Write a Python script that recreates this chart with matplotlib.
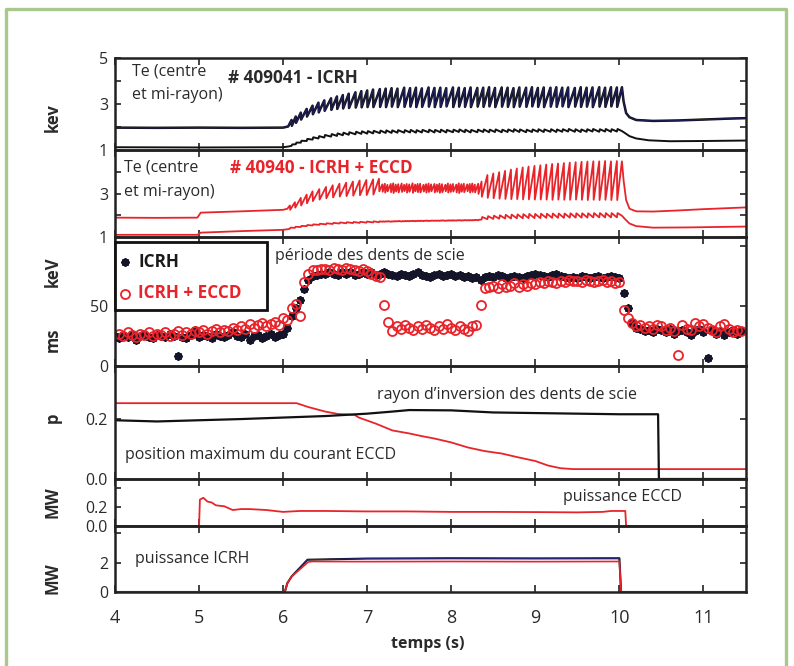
import numpy as np
import matplotlib
matplotlib.use('Agg')
import matplotlib.pyplot as plt
from matplotlib.patches import Rectangle
from matplotlib.lines import Line2D

plt.rcParams['font.family'] = ['Open Sans', 'DejaVu Sans']

# ---------------- data ----------------
x_ticks = [4, 5, 6, 7, 8, 9, 10, 11]
x_tick_labels = ['4', '5', '6', '7', '8', '9', '10', '11']

# Panel 1 : shot 409041 (ICRH) - central and mid-radius Te (keV)
icrh_core_pre_t = [4.0, 4.5, 5.0, 5.5, 6.0, 6.06]
icrh_core_pre_v = [1.97, 1.96, 1.97, 1.96, 1.97, 2.02]
icrh_crash_t = [6.10, 6.15, 6.21, 6.28, 6.35, 6.42, 6.49, 6.57, 6.64, 6.71,
                6.78, 6.86, 6.93, 7.00, 7.07, 7.15, 7.22, 7.29, 7.36, 7.44,
                7.51, 7.58, 7.65, 7.73, 7.80, 7.87, 7.94, 8.02, 8.09, 8.16,
                8.23, 8.31, 8.38, 8.45, 8.52, 8.60, 8.67, 8.74, 8.81, 8.89,
                8.96, 9.03, 9.10, 9.18, 9.25, 9.32, 9.39, 9.47, 9.54, 9.61,
                9.68, 9.76, 9.83, 9.90, 9.97]
icrh_core_peak = [2.30, 2.45, 2.62, 2.78, 2.92, 3.05, 3.15, 3.24, 3.32, 3.38,
                  3.44, 3.50, 3.55, 3.58, 3.62, 3.64, 3.66, 3.68, 3.66, 3.70,
                  3.68, 3.70, 3.67, 3.71, 3.69, 3.70, 3.68, 3.71, 3.70, 3.68,
                  3.71, 3.69, 3.70, 3.72, 3.69, 3.71, 3.70, 3.68, 3.71, 3.70,
                  3.72, 3.69, 3.71, 3.70, 3.72, 3.70, 3.71, 3.69, 3.72, 3.70,
                  3.71, 3.72, 3.70, 3.72, 3.71]
icrh_core_trough = [2.05, 2.18, 2.32, 2.45, 2.55, 2.63, 2.70, 2.74, 2.78, 2.80,
                    2.82, 2.84, 2.85, 2.86, 2.86, 2.87, 2.86, 2.88, 2.86, 2.87,
                    2.88, 2.86, 2.87, 2.88, 2.86, 2.87, 2.89, 2.86, 2.88, 2.87,
                    2.86, 2.88, 2.87, 2.89, 2.86, 2.88, 2.87, 2.86, 2.88, 2.87,
                    2.89, 2.87, 2.86, 2.88, 2.87, 2.89, 2.86, 2.88, 2.87, 2.88,
                    2.86, 2.88, 2.87, 2.89, 2.87]
icrh_core_post_t = [10.03, 10.05, 10.08, 10.12, 10.2, 10.4, 10.7, 11.0, 11.3, 11.5]
icrh_core_post_v = [3.72, 3.10, 2.60, 2.42, 2.30, 2.26, 2.28, 2.32, 2.36, 2.38]

icrh_mid_pre_t = [4.0, 5.0, 6.0, 6.06]
icrh_mid_pre_v = [1.12, 1.11, 1.12, 1.15]
icrh_mid_low = [1.18, 1.25, 1.32, 1.39, 1.45, 1.50, 1.54, 1.58, 1.61, 1.64,
                1.66, 1.68, 1.70, 1.71, 1.72, 1.73, 1.74, 1.74, 1.75, 1.75,
                1.76, 1.75, 1.76, 1.77, 1.76, 1.77, 1.76, 1.77, 1.78, 1.77,
                1.76, 1.77, 1.78, 1.77, 1.78, 1.77, 1.78, 1.79, 1.78, 1.77,
                1.78, 1.79, 1.78, 1.79, 1.78, 1.79, 1.80, 1.79, 1.78, 1.79,
                1.80, 1.79, 1.80, 1.79, 1.80]
icrh_mid_high = [1.24, 1.32, 1.40, 1.48, 1.55, 1.60, 1.65, 1.69, 1.72, 1.75,
                 1.77, 1.79, 1.81, 1.82, 1.83, 1.84, 1.85, 1.85, 1.86, 1.86,
                 1.87, 1.86, 1.87, 1.88, 1.87, 1.88, 1.87, 1.88, 1.89, 1.88,
                 1.87, 1.88, 1.89, 1.88, 1.89, 1.88, 1.89, 1.90, 1.89, 1.88,
                 1.89, 1.90, 1.89, 1.90, 1.89, 1.90, 1.91, 1.90, 1.89, 1.90,
                 1.91, 1.90, 1.91, 1.90, 1.91]
icrh_mid_post_t = [10.03, 10.06, 10.12, 10.2, 10.35, 10.6, 11.0, 11.5]
icrh_mid_post_v = [1.82, 1.75, 1.60, 1.50, 1.42, 1.38, 1.39, 1.41]

# Panel 2 : shot 40940 (ICRH + ECCD)
eccd_core_pre_t = [4.0, 4.5, 4.98, 5.02, 5.5, 6.0, 6.05]
eccd_core_pre_v = [1.89, 1.88, 1.89, 2.12, 2.18, 2.25, 2.30]
eccd_crash_t = [6.08, 6.14, 6.21, 6.28, 6.35, 6.43, 6.51, 6.59, 6.67, 6.75,
                6.83, 6.91, 6.99, 7.07, 7.14,
                7.18, 7.21, 7.24, 7.28, 7.31, 7.34, 7.37, 7.41, 7.44, 7.47,
                7.50, 7.54, 7.57, 7.60, 7.63, 7.67, 7.70, 7.73, 7.76, 7.80,
                7.83, 7.86, 7.89, 7.93, 7.96, 7.99, 8.02, 8.06, 8.09, 8.12,
                8.15, 8.19, 8.22, 8.25, 8.28, 8.32,
                8.36, 8.43, 8.50, 8.57, 8.64, 8.71, 8.78, 8.85, 8.92, 8.99,
                9.06, 9.13, 9.20, 9.27, 9.34, 9.41, 9.48, 9.55, 9.62, 9.69,
                9.76, 9.83, 9.90, 9.97]
eccd_core_peak = [2.45, 2.60, 2.80, 2.95, 3.10, 3.20, 3.30, 3.38, 3.45, 3.50,
                  3.55, 3.60, 3.62, 3.65, 3.68,
                  3.42, 3.45, 3.40, 3.44, 3.47, 3.41, 3.43, 3.46, 3.40, 3.44,
                  3.42, 3.47, 3.41, 3.44, 3.45, 3.40, 3.43, 3.46, 3.42, 3.44,
                  3.41, 3.45, 3.43, 3.40, 3.46, 3.42, 3.44, 3.41, 3.47, 3.43,
                  3.45, 3.42, 3.44, 3.46, 3.41, 3.45,
                  3.55, 3.85, 3.92, 3.98, 4.04, 4.10, 4.15, 4.20, 4.24, 4.27,
                  4.30, 4.33, 4.36, 4.38, 4.40, 4.42, 4.44, 4.46, 4.47, 4.48,
                  4.48, 4.49, 4.48, 4.49]
eccd_core_trough = [2.25, 2.35, 2.45, 2.55, 2.65, 2.72, 2.78, 2.82, 2.86, 2.88,
                    2.90, 2.92, 2.93, 2.95, 3.10,
                    3.08, 3.04, 3.10, 3.06, 3.02, 3.09, 3.05, 3.07, 3.11, 3.04,
                    3.08, 3.03, 3.10, 3.06, 3.05, 3.09, 3.04, 3.07, 3.10, 3.05,
                    3.08, 3.03, 3.06, 3.10, 3.04, 3.07, 3.09, 3.05, 3.02, 3.08,
                    3.06, 3.10, 3.04, 3.07, 3.05, 2.98,
                    2.85, 2.80, 2.78, 2.76, 2.75, 2.74, 2.74, 2.73, 2.73, 2.72,
                    2.72, 2.72, 2.71, 2.72, 2.71, 2.71, 2.72, 2.71, 2.70, 2.71,
                    2.70, 2.71, 2.70, 2.70]
eccd_core_post_t = [10.03, 10.05, 10.08, 10.12, 10.2, 10.4, 10.7, 11.0, 11.3, 11.5]
eccd_core_post_v = [4.48, 3.60, 2.70, 2.30, 2.18, 2.17, 2.22, 2.28, 2.33, 2.36]

eccd_mid_pre_t = [4.0, 4.98, 5.02, 5.5, 6.0, 6.06]
eccd_mid_pre_v = [1.10, 1.10, 1.20, 1.27, 1.33, 1.36]
eccd_mid_low = [1.38, 1.42, 1.46, 1.50, 1.53, 1.56, 1.58, 1.60, 1.62, 1.63,
                1.64, 1.65, 1.66, 1.67, 1.68,
                1.70, 1.70, 1.71, 1.70, 1.71, 1.71, 1.72, 1.71, 1.72, 1.72,
                1.72, 1.73, 1.72, 1.73, 1.73, 1.73, 1.74, 1.73, 1.74, 1.74,
                1.74, 1.74, 1.75, 1.74, 1.75, 1.75, 1.75, 1.75, 1.76, 1.75,
                1.76, 1.76, 1.76, 1.76, 1.77, 1.77,
                1.80, 1.82, 1.83, 1.84, 1.85, 1.85, 1.86, 1.86, 1.87, 1.87,
                1.87, 1.88, 1.88, 1.88, 1.88, 1.89, 1.89, 1.89, 1.89, 1.90,
                1.90, 1.90, 1.90, 1.90]
eccd_mid_high = [1.43, 1.47, 1.51, 1.55, 1.58, 1.61, 1.63, 1.65, 1.67, 1.68,
                 1.69, 1.70, 1.71, 1.72, 1.72,
                 1.72, 1.72, 1.73, 1.72, 1.73, 1.73, 1.74, 1.73, 1.74, 1.74,
                 1.74, 1.75, 1.74, 1.75, 1.75, 1.75, 1.76, 1.75, 1.76, 1.76,
                 1.76, 1.76, 1.77, 1.76, 1.77, 1.77, 1.77, 1.77, 1.78, 1.77,
                 1.78, 1.78, 1.78, 1.78, 1.79, 1.79,
                 1.92, 1.96, 1.98, 2.00, 2.02, 2.03, 2.04, 2.05, 2.06, 2.06,
                 2.07, 2.07, 2.08, 2.08, 2.08, 2.09, 2.09, 2.09, 2.09, 2.10,
                 2.10, 2.10, 2.10, 2.10]
eccd_mid_post_t = [10.03, 10.06, 10.12, 10.2, 10.4, 10.8, 11.5]
eccd_mid_post_v = [1.98, 1.85, 1.62, 1.50, 1.43, 1.44, 1.48]

# Panel 3 : sawtooth period (ms), sampled every 50 ms from 4.0 s
period_t = np.round(4.0 + 0.05 * np.arange(150), 2)
period_icrh = [25, 23, 26, 24, 27, 22, 25, 26, 24, 23,
               26, 25, 24, 27, 25, 8, 24, 23, 26, 30,
               24, 26, 25, 23, 27, 25, 24, 26, 28, 25,
               24, 27, 22, 25, 26, 23, 25, 27, 24, 26,
               27, 32, 42, 48, 55, 64, 72, 75, 76, 77,
               77, 78, 77, 76, 78, 77, 78, 76, 77, 78,
               77, 78, 76, 77, 78, 77, 76, 75, 77, 76,
               75, 77, 78, 76, 75, 74, 76, 77, 75, 76,
               77, 75, 76, 74, 75, 73, 74, 72, 74, 75,
               74, 76, 75, 73, 74, 75, 74, 73, 75, 76,
               77, 76, 75, 74, 76, 77, 75, 74, 73, 74,
               73, 75, 74, 73, 74, 75, 73, 74, 75, 74,
               73, 61, 48, 36, 32, 31, 29, 30, 28, 31,
               30, 28, 31, 27, 29, 30, 28, 26, 29, 31,
               28, 7, 30, 27, 29, 26, 28, 30, 27, 29]
period_eccd = [50, 27, 25, 28, 26, 24, 27, 26, 28, 25,
               27, 26, 28, 25, 27, 29, 26, 28, 27, 29,
               28, 30, 27, 29, 31, 28, 30, 29, 32, 30,
               33, 31, 35, 32, 34, 36, 33, 35, 37, 34,
               40, 38, 48, 52, 42, 70, 77, 80, 80, 81,
               81, 80, 82, 81, 80, 82, 81, 80, 79, 81,
               79, 77, 75, 74, 51, 37, 29, 33, 31, 34,
               32, 30, 33, 31, 34, 32, 30, 33, 31, 35,
               32, 30, 33, 31, 29, 33, 34, 51, 65, 66,
               67, 65, 68, 66, 67, 69, 66, 68, 67, 69,
               68, 70, 69, 71, 70, 69, 71, 70, 72, 71,
               71, 70, 72, 71, 70, 71, 72, 70, 71, 69,
               70, 47, 40, 36, 33, 34, 32, 33, 31, 34,
               33, 30, 32, 29, 9, 34, 31, 30, 36, 33,
               35, 32, 30, 28, 33, 35, 31, 28, 30, 29]

# Panel 4 : normalised radius
rho_eccd_t = [4.0, 6.16, 6.3, 6.5, 6.65, 6.85, 6.9, 7.1, 7.3, 7.5, 7.65, 7.8,
              8.0, 8.2, 8.4, 8.6, 8.8, 9.0, 9.15, 9.3, 9.45, 11.5]
rho_eccd_v = [0.253, 0.253, 0.240, 0.225, 0.217, 0.214, 0.205, 0.185, 0.162,
              0.152, 0.143, 0.135, 0.122, 0.105, 0.093, 0.085, 0.072, 0.060,
              0.045, 0.036, 0.033, 0.033]
rho_inv_t = [4.0, 4.5, 5.0, 5.5, 6.0, 6.5, 7.0, 7.3, 7.5, 8.0, 8.5, 9.0, 9.5,
             10.0, 10.46, 10.47, 11.5]
rho_inv_v = [0.196, 0.192, 0.196, 0.200, 0.205, 0.210, 0.218, 0.225, 0.230,
             0.229, 0.222, 0.220, 0.218, 0.216, 0.216, 0.0, 0.0]

# Panel 5 : ECCD power (MW)
p_eccd_t = [4.0, 5.0, 5.01, 5.05, 5.1, 5.15, 5.2, 5.3, 5.4, 5.5, 5.6, 5.8, 6.0,
            6.2, 6.5, 7.0, 7.5, 8.0, 8.5, 9.0, 9.5, 9.8, 9.9, 10.07, 10.08, 11.5]
p_eccd_v = [0.0, 0.0, 0.28, 0.30, 0.26, 0.25, 0.22, 0.21, 0.17, 0.18, 0.18,
            0.17, 0.15, 0.16, 0.16, 0.155, 0.155, 0.15, 0.15, 0.148, 0.145,
            0.15, 0.16, 0.16, 0.0, 0.0]

# Panel 6 : ICRH power (MW)
p_icrh1_t = [4.0, 6.02, 6.05, 6.1, 6.29, 7.0, 8.0, 9.0, 10.0, 10.02, 11.5]
p_icrh1_v = [0.0, 0.0, 0.6, 1.05, 2.2, 2.28, 2.3, 2.29, 2.3, 0.0, 0.0]
p_icrh2_t = [4.0, 6.02, 6.05, 6.1, 6.3, 6.35, 7.0, 8.0, 9.0, 10.0, 10.02, 11.5]
p_icrh2_v = [0.0, 0.0, 0.6, 1.05, 2.05, 2.08, 2.07, 2.08, 2.07, 2.08, 0.0, 0.0]

# ---------------- helpers ----------------
def core_trace(pre_t, pre_v, crash_t, peak, trough, post_t, post_v, dt=0.004):
    ts, vs = list(pre_t), list(pre_v)
    for t, p, r in zip(crash_t, peak, trough):
        ts += [t, t + dt]
        vs += [p, r]
    return ts + list(post_t), vs + list(post_v)


def mid_trace(pre_t, pre_v, crash_t, low, high, post_t, post_v, dt=0.008):
    ts, vs = list(pre_t), list(pre_v)
    for t, lo, hi in zip(crash_t, low, high):
        ts += [t, t + dt]
        vs += [lo, hi]
    return ts + list(post_t), vs + list(post_v)


# ---------------- figure ----------------
W, H = 794, 666
RED = '#e8242a'
NAVY = '#1d1d58'
DARK = '#222222'
TXT = '#2a2a2a'
BODY = 11.5
TITLE = 12.3

fig = plt.figure(figsize=(W / 100, H / 100), dpi=100)
XL, XR = 115, 745.5


def add_panel(top, bottom):
    return fig.add_axes([XL / W, 1 - bottom / H, (XR - XL) / W, (bottom - top) / H])


ax1 = add_panel(57.7, 150)
ax2 = add_panel(150, 237)
ax3 = add_panel(237, 366)
ax4 = add_panel(366, 479)
ax5 = add_panel(479, 526)
ax6 = add_panel(526, 592)
axes = [ax1, ax2, ax3, ax4, ax5, ax6]

# Panel 1
t, v = mid_trace(icrh_mid_pre_t, icrh_mid_pre_v, icrh_crash_t, icrh_mid_low,
                 icrh_mid_high, icrh_mid_post_t, icrh_mid_post_v)
ax1.plot(t, v, color='#111111', lw=1.4)
t, v = core_trace(icrh_core_pre_t, icrh_core_pre_v, icrh_crash_t, icrh_core_peak,
                  icrh_core_trough, icrh_core_post_t, icrh_core_post_v)
ax1.plot(t, v, color='#111111', lw=1.8)
ax1.plot(t, v, color=NAVY, lw=0.9)
ax1.set_ylim(1, 5)
ax1.set_yticks([1, 2, 3, 4, 5])
ax1.set_yticklabels(['1', '', '3', '', '5'])

# Panel 2
t, v = mid_trace(eccd_mid_pre_t, eccd_mid_pre_v, eccd_crash_t, eccd_mid_low,
                 eccd_mid_high, eccd_mid_post_t, eccd_mid_post_v)
ax2.plot(t, v, color=RED, lw=1.3)
t, v = core_trace(eccd_core_pre_t, eccd_core_pre_v, eccd_crash_t, eccd_core_peak,
                  eccd_core_trough, eccd_core_post_t, eccd_core_post_v)
ax2.plot(t, v, color=RED, lw=1.3)
ax2.set_ylim(1, 5)
ax2.set_yticks([1, 2, 3, 4, 5])
ax2.set_yticklabels(['1', '', '3', '', ''])

# Panel 3
ax3.plot(period_t, period_icrh, linestyle='none', marker=(8, 2, 0), ms=6,
         mew=1.4, color='#15152a')
ax3.plot(period_t, period_eccd, linestyle='none', marker='o', ms=6.5, mew=1.3,
         mfc='none', mec=RED)
ax3.set_ylim(0, 107.5)
ax3.set_yticks([0, 50, 100])
ax3.set_yticklabels(['0', '50', ''])

# Panel 4
ax4.plot(rho_eccd_t, rho_eccd_v, color=RED, lw=1.3)
ax4.plot(rho_inv_t, rho_inv_v, color='#111111', lw=1.6)
ax4.set_ylim(0, 0.377)
ax4.set_yticks([0.0, 0.2])
ax4.set_yticklabels(['0.0', '0.2'])

# Panel 5
ax5.plot(p_eccd_t, p_eccd_v, color=RED, lw=1.3)
ax5.set_ylim(0, 0.5)
ax5.set_yticks([0, 0.2, 0.4])
ax5.set_yticklabels(['0.0', '0.2', ''])

# Panel 6
ax6.plot(p_icrh1_t, p_icrh1_v, color='#111111', lw=1.5)
ax6.plot(p_icrh1_t, p_icrh1_v, color='#2a2a90', lw=0.6)
ax6.plot(p_icrh2_t, p_icrh2_v, color=RED, lw=1.2)
ax6.set_ylim(0, 4.5)
ax6.set_yticks([0, 2, 4])
ax6.set_yticklabels(['0', '2', ''])

for ax in axes:
    ax.set_xlim(4, 11.5)
    ax.set_xticks(x_ticks)
    ax.set_xticklabels(x_tick_labels)
    for s in ax.spines.values():
        s.set_linewidth(1.8)
        s.set_color(DARK)
    ax.tick_params(axis='y', direction='in', left=True, right=True, length=4,
                   width=1.2, color=DARK, labelsize=11.5, pad=5, labelcolor=TXT)
    ax.tick_params(axis='x', direction='in', top=True, bottom=True, length=5,
                   width=1.2, color=DARK, labelbottom=False)
    ax.set_facecolor('none')
ax6.tick_params(axis='x', labelbottom=True, labelsize=13, pad=12, labelcolor=TXT)


def ftext(x, y, s, **kw):
    fig.text(x / W, 1 - y / H, s, **kw)


# y-axis labels
for y, s in [(118, 'kev'), (272, 'keV'), (340, 'ms'), (418, 'p'),
             (502, 'MW'), (578, 'MW')]:
    ftext(53, y, s, rotation=90, ha='center', va='center', fontsize=12,
          fontweight='bold', color=TXT)

ftext(428, 644, 'temps (s)', ha='center', va='center', fontsize=11.5,
      fontweight='bold', color=TXT)

# annotations
ftext(132, 71, 'Te (centre', ha='left', va='center', fontsize=BODY, color=TXT)
ftext(132, 95, 'et mi-rayon)', ha='left', va='center', fontsize=BODY, color=TXT)
ftext(228, 78, '# 409041 - ICRH', ha='left', va='center', fontsize=TITLE,
      fontweight='bold', color=TXT)
ftext(124, 168, 'Te (centre', ha='left', va='center', fontsize=BODY, color=TXT)
ftext(124, 192, 'et mi-rayon)', ha='left', va='center', fontsize=BODY, color=TXT)
ftext(230, 168, '# 40940 - ICRH + ECCD', ha='left', va='center', fontsize=TITLE,
      fontweight='bold', color=RED)
ftext(275, 256, 'période des dents de scie', ha='left', va='center',
      fontsize=BODY, color=TXT)
ftext(377, 395, 'rayon d\u2019inversion des dents de scie', ha='left',
      va='center', fontsize=BODY, color=TXT)
ftext(125, 455, 'position maximum du courant ECCD', ha='left', va='center',
      fontsize=BODY, color=TXT)
ftext(563, 497, 'puissance ECCD', ha='left', va='center', fontsize=BODY, color=TXT)
ftext(135, 559, 'puissance ICRH', ha='left', va='center', fontsize=BODY, color=TXT)

# legend box in panel 3
fig.add_artist(Rectangle((XL / W, 1 - 310 / H), 152 / W, 68 / H,
                         transform=fig.transFigure, lw=2, ec='#111111',
                         fc='white', zorder=10))
fig.add_artist(Line2D([125 / W], [1 - 262 / H], marker=(8, 2, 0), ms=6, mew=1.4,
                      color='#15152a', linestyle='none', zorder=11))
fig.add_artist(Line2D([125 / W], [1 - 294 / H], marker='o', ms=6.5, mew=1.3,
                      mfc='none', mec=RED, linestyle='none', zorder=11))
fig.text(138 / W, 1 - 262 / H, 'ICRH', ha='left', va='center', fontsize=12.3,
         fontweight='bold', color='#1a1a1a', zorder=12)
fig.text(138 / W, 1 - 293 / H, 'ICRH + ECCD', ha='left', va='center',
         fontsize=12.3, fontweight='bold', color=RED, zorder=12)

# green frame
fig.add_artist(Line2D([6 / W, 6 / W, 786 / W, 786 / W],
                      [0, 1 - 9 / H, 1 - 9 / H, 0], transform=fig.transFigure,
                      color='#a8c98c', lw=2.4))

fig.savefig('out.png', dpi=100)
